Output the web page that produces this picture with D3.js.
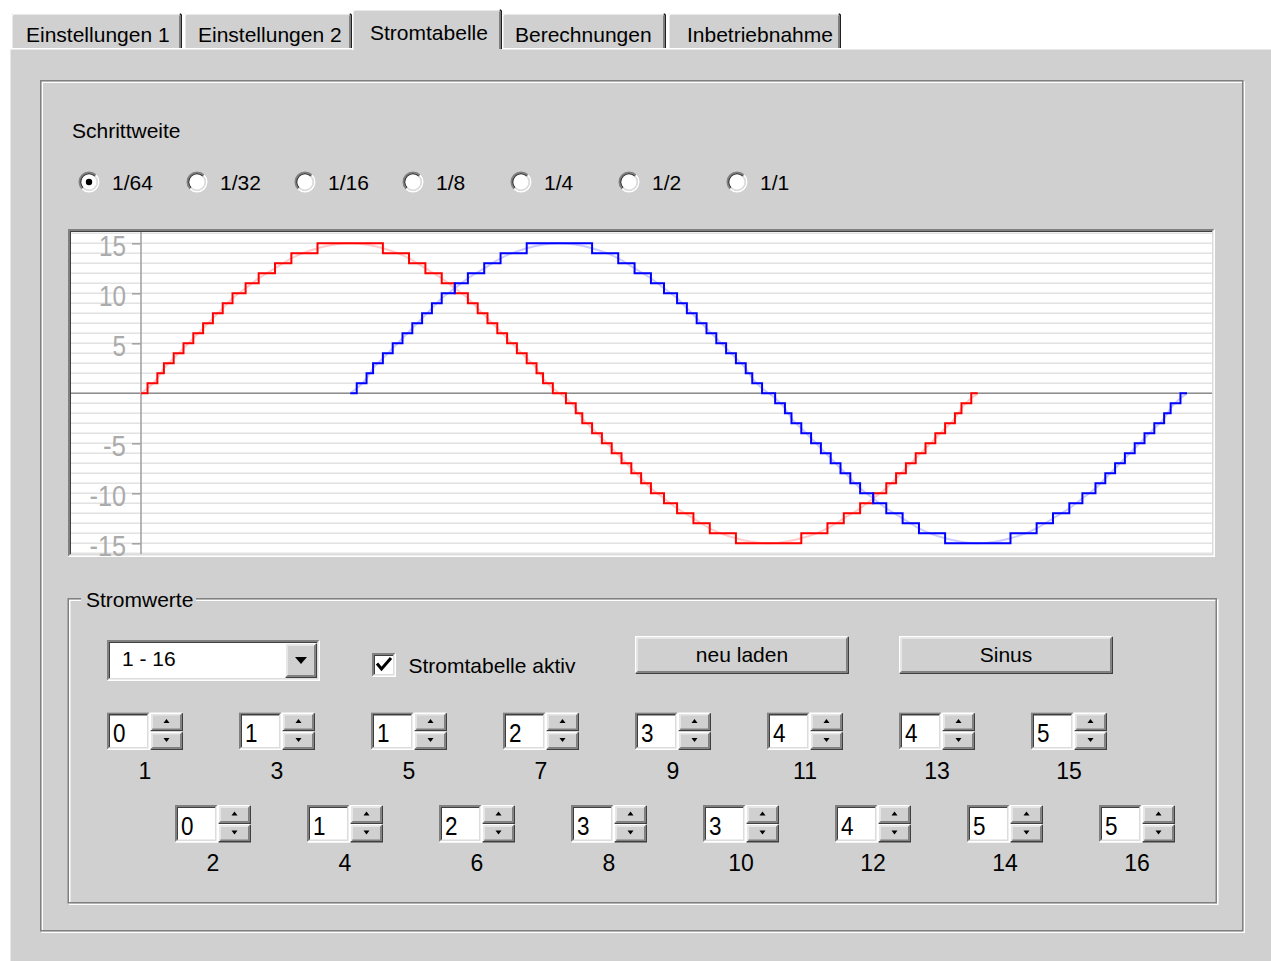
<!DOCTYPE html>
<meta charset="utf-8">
<script src="https://d3js.org/d3.v7.min.js"></script>
<style>
  body { margin: 0; background: #ffffff; }
  text { font-family: "Liberation Sans", Arial, sans-serif; font-size: 21px; fill: #000; }
</style>
<body>
<div id="dialog"></div>
<script>
  var tabNames = ["Einstellungen 1", "Einstellungen 2", "Stromtabelle", "Berechnungen", "Inbetriebnahme"];
  var activeTab = 2;

  var stepSizes = ["1/64", "1/32", "1/16", "1/8", "1/4", "1/2", "1/1"];
  var activeStep = 0;

  var yTicks = [15, 10, 5, -5, -10, -15];

  // coil current per microstep, one electrical period (4 x 64 microsteps)
  var phaseA = [
    0, 0, 1, 1, 1, 2, 2, 3, 3, 3, 4, 4, 4, 5, 5, 5,
    6, 6, 6, 7, 7, 7, 8, 8, 8, 9, 9, 9, 10, 10, 10, 10,
    11, 11, 11, 11, 12, 12, 12, 12, 12, 13, 13, 13, 13, 13, 14, 14,
    14, 14, 14, 14, 14, 14, 15, 15, 15, 15, 15, 15, 15, 15, 15, 15,
    15, 15, 15, 15, 15, 15, 15, 15, 15, 15, 14, 14, 14, 14, 14, 14,
    14, 14, 13, 13, 13, 13, 13, 12, 12, 12, 12, 12, 11, 11, 11, 11,
    10, 10, 10, 10, 9, 9, 9, 8, 8, 8, 7, 7, 7, 6, 6, 6,
    5, 5, 5, 4, 4, 4, 3, 3, 3, 2, 2, 1, 1, 1, 0, 0,
    0, 0, -1, -1, -1, -2, -2, -3, -3, -3, -4, -4, -4, -5, -5, -5,
    -6, -6, -6, -7, -7, -7, -8, -8, -8, -9, -9, -9, -10, -10, -10, -10,
    -11, -11, -11, -11, -12, -12, -12, -12, -12, -13, -13, -13, -13, -13, -14, -14,
    -14, -14, -14, -14, -14, -14, -15, -15, -15, -15, -15, -15, -15, -15, -15, -15,
    -15, -15, -15, -15, -15, -15, -15, -15, -15, -15, -14, -14, -14, -14, -14, -14,
    -14, -14, -13, -13, -13, -13, -13, -12, -12, -12, -12, -12, -11, -11, -11, -11,
    -10, -10, -10, -10, -9, -9, -9, -8, -8, -8, -7, -7, -7, -6, -6, -6,
    -5, -5, -5, -4, -4, -4, -3, -3, -3, -2, -2, -1, -1, -1, 0, 0
  ];
  var phaseBOffset = 64; // second coil starts a quarter period later

  var rangeLabel = "1 - 16";
  var tableValues = [0, 0, 1, 1, 1, 2, 2, 3, 3, 3, 4, 4, 4, 5, 5, 5];

  // ---- layout ----
  var W = 1271, H = 961;
  var GRAY = "#d0d0d0";
  var tabs = [
    { x0: 11, x1: 182, tx: 26 },
    { x0: 184, x1: 352, tx: 198 },
    { x0: 352, x1: 502, tx: 370 },
    { x0: 502, x1: 666, tx: 515 },
    { x0: 668, x1: 841, tx: 687 }
  ];

  var RAISED = [["#ffffff", "#404040"], ["#e6e6e6", "#808080"]];
  var SUNKEN = [["#808080", "#ffffff"], ["#404040", "#dcdcdc"]];

  var svg = d3.select("#dialog")
    .append("svg")
    .attr("width", W)
    .attr("height", H);

  // two rings of 1.5px lines, like a win32 3d edge
  function edge(g, x, y, w, h, cols) {
    var lw = 1.5;
    cols.forEach(function (c, k) {
      var o = k * lw + lw / 2;
      var x0 = x + o, y0 = y + o, x1 = x + w - o, y1 = y + h - o;
      g.append("path").attr("d", "M" + x0 + "," + y1 + "V" + y0 + "H" + x1)
        .attr("fill", "none").attr("stroke", c[0]).attr("stroke-width", lw);
      g.append("path").attr("d", "M" + x0 + "," + y1 + "H" + x1 + "V" + y0)
        .attr("fill", "none").attr("stroke", c[1]).attr("stroke-width", lw);
    });
  }

  function box(g, x, y, w, h, fill, cols) {
    g.append("rect").attr("x", x).attr("y", y).attr("width", w).attr("height", h).attr("fill", fill);
    edge(g, x, y, w, h, cols);
  }

  function etched(g, x, y, w, h) {
    g.append("rect").attr("x", x + 2.25).attr("y", y + 2.25).attr("width", w - 3).attr("height", h - 3)
      .attr("fill", "none").attr("stroke", "#ffffff").attr("stroke-width", 1.5);
    g.append("rect").attr("x", x + 0.75).attr("y", y + 0.75).attr("width", w - 3).attr("height", h - 3)
      .attr("fill", "none").attr("stroke", "#808080").attr("stroke-width", 1.5);
  }

  function triangle(g, cx, cy, hw, hh, up) {
    var d = up
      ? "M" + (cx - hw) + "," + (cy + hh) + "L" + (cx + hw) + "," + (cy + hh) + "L" + cx + "," + (cy - hh) + "Z"
      : "M" + (cx - hw) + "," + (cy - hh) + "L" + (cx + hw) + "," + (cy - hh) + "L" + cx + "," + (cy + hh) + "Z";
    g.append("path").attr("d", d).attr("fill", "#000");
  }

  // ---- tab control ----
  svg.append("rect").attr("x", 9).attr("y", 48).attr("width", W - 9).attr("height", H - 48).attr("fill", GRAY);
  svg.append("path").attr("d", "M9.75," + H + "V48.75H" + W)
    .attr("fill", "none").attr("stroke", "#ffffff").attr("stroke-width", 1.5);

  function drawTab(t, i) {
    var sel = i === activeTab;
    var top = sel ? 9 : 13, bot = sel ? 50 : 48;
    var g = svg.append("g");
    g.append("path")
      .attr("d", "M" + t.x0 + "," + bot + "V" + (top + 2) + "L" + (t.x0 + 2) + "," + top +
        "H" + (t.x1 - 2) + "L" + t.x1 + "," + (top + 2) + "V" + bot + "Z")
      .attr("fill", GRAY);
    g.append("path")
      .attr("d", "M" + (t.x0 + 0.75) + "," + bot + "V" + (top + 2.5) + "L" + (t.x0 + 2.5) + "," + (top + 0.75) +
        "H" + (t.x1 - 2.5))
      .attr("fill", "none").attr("stroke", "#ffffff").attr("stroke-width", 1.5);
    g.append("path")
      .attr("d", "M" + (t.x1 - 2) + "," + (top + 0.75) + "L" + (t.x1 - 0.75) + "," + (top + 2) + "V" + (sel ? bot - 1 : bot))
      .attr("fill", "none").attr("stroke", "#202020").attr("stroke-width", 1.5);
    g.append("path")
      .attr("d", "M" + (t.x1 - 2.25) + "," + (top + 2.5) + "V" + (sel ? bot - 1 : bot))
      .attr("fill", "none").attr("stroke", "#808080").attr("stroke-width", 1.5);
    g.append("text")
      .attr("x", t.tx)
      .attr("y", sel ? 39.5 : 42)
      .text(tabNames[i]);
  }
  tabs.forEach(function (t, i) { if (i !== activeTab) drawTab(t, i); });
  drawTab(tabs[activeTab], activeTab);

  // ---- page frame ----
  etched(svg, 40, 80, 1205, 853);

  svg.append("text").attr("x", 72).attr("y", 138).text("Schrittweite");

  // radio buttons
  var radioArc = d3.arc();
  stepSizes.forEach(function (s, i) {
    var cx = 89 + i * 108, cy = 182;
    var g = svg.append("g").attr("transform", "translate(" + cx + "," + cy + ")");
    var rings = [[10.5, 9, "#808080", "#ffffff"], [9, 7.5, "#404040", "#dcdcdc"]];
    rings.forEach(function (r) {
      g.append("path").attr("d", radioArc({ innerRadius: r[1], outerRadius: r[0], startAngle: -3 * Math.PI / 4, endAngle: Math.PI / 4 }))
        .attr("fill", r[2]);
      g.append("path").attr("d", radioArc({ innerRadius: r[1], outerRadius: r[0], startAngle: Math.PI / 4, endAngle: 5 * Math.PI / 4 }))
        .attr("fill", r[3]);
    });
    g.append("circle").attr("r", 7.5).attr("fill", "#ffffff");
    if (i === activeStep) g.append("circle").attr("r", 3.2).attr("fill", "#000");
    svg.append("text").attr("x", 112 + i * 108).attr("y", 190).text(s);
  });

  // ---- current table chart ----
  var cx0 = 68, cy0 = 229, cw = 1147, ch = 328;
  var chart = svg.append("g");
  box(chart, cx0, cy0, cw, ch, "#ffffff", SUNKEN);

  chart.append("clipPath").attr("id", "plotClip")
    .append("rect").attr("x", cx0 + 3).attr("y", cy0 + 3).attr("width", cw - 6).attr("height", ch - 6);

  var x = d3.scaleLinear().domain([0, 320]).range([141, 1187]);
  var y = d3.scaleLinear().domain([-16, 16]).range([553.3, 233.3]);

  var plot = chart.append("g").attr("clip-path", "url(#plotClip)");

  plot.selectAll("line.grid")
    .data(y.ticks(32))
    .enter()
    .append("line")
    .attr("class", "grid")
    .attr("x1", cx0 + 3).attr("x2", cx0 + cw - 3)
    .attr("y1", function (d) { return y(d); })
    .attr("y2", function (d) { return y(d); })
    .style("stroke", "#e2e2e2")
    .style("stroke-width", 1.6);

  plot.append("line")
    .attr("x1", cx0 + 3).attr("x2", cx0 + cw - 3)
    .attr("y1", y(0)).attr("y2", y(0))
    .style("stroke", "#8e8e8e").style("stroke-width", 1.6);

  plot.append("line")
    .attr("x1", x(0)).attr("x2", x(0))
    .attr("y1", cy0 + 3).attr("y2", cy0 + ch - 3)
    .style("stroke", "#a4a4a4").style("stroke-width", 1.6);

  var yAxis = d3.axisLeft(y)
    .tickValues(yTicks)
    .tickSize(9)
    .tickSizeOuter(0)
    .tickPadding(6)
    .tickFormat(function (d) { return String(d); });

  var axisG = chart.append("g")
    .attr("transform", "translate(" + x(0) + ",0)")
    .call(yAxis);
  axisG.select(".domain").remove();
  axisG.selectAll(".tick line").attr("stroke", "#a4a4a4").attr("stroke-width", 1.6);
  // the dialog font has narrow, tall digits
  axisG.selectAll(".tick text")
    .attr("dy", "0.42em")
    .attr("textLength", function (d) { return String(Math.abs(d)).length * 13.5 + (d < 0 ? 9.5 : 0); })
    .attr("lengthAdjust", "spacingAndGlyphs")
    .style("font-family", "'Liberation Sans', Arial, sans-serif")
    .style("font-size", "29px")
    .style("fill", "#ababab");

  function stepPoints(values, offset) {
    var pts = values.map(function (v, i) { return [i + offset, v]; });
    pts.push([values.length + offset, values[values.length - 1]]);
    return pts;
  }

  // smooth guide through the middle of each riser and the centre of the flat peaks
  function guidePoints(values, offset) {
    var peak = d3.max(values, function (v) { return Math.abs(v); });
    var pts = [[offset, values[0]]];
    var runStart = 0;
    for (var i = 1; i <= values.length; i++) {
      if (i === values.length || values[i] !== values[i - 1]) {
        if (Math.abs(values[i - 1]) === peak) pts.push([offset + (runStart + i) / 2, values[i - 1]]);
        if (i < values.length) pts.push([offset + i, (values[i] + values[i - 1]) / 2]);
        runStart = i;
      }
    }
    pts.push([offset + values.length, values[values.length - 1]]);
    return pts;
  }

  var stepLine = d3.line()
    .x(function (d) { return x(d[0]); })
    .y(function (d) { return y(d[1]); })
    .curve(d3.curveStepAfter);

  var guideLine = d3.line()
    .x(function (d) { return x(d[0]); })
    .y(function (d) { return y(d[1]); })
    .curve(d3.curveMonotoneX);

  var series = [
    { offset: 0, color: "#ff0000", faint: "#ffcaca" },
    { offset: phaseBOffset, color: "#0000ff", faint: "#cacaff" }
  ];

  series.forEach(function (s) {
    plot.append("path")
      .datum(guidePoints(phaseA, s.offset))
      .attr("d", guideLine)
      .style("fill", "none")
      .style("stroke", s.faint)
      .style("stroke-width", 2);
  });
  series.forEach(function (s) {
    plot.append("path")
      .datum(stepPoints(phaseA, s.offset))
      .attr("d", stepLine)
      .style("fill", "none")
      .style("stroke", s.color)
      .style("stroke-width", 2);
  });

  // ---- group box "Stromwerte" ----
  etched(svg, 67.5, 598, 1151, 307);
  svg.append("rect").attr("x", 81).attr("y", 592).attr("width", 115).attr("height", 12).attr("fill", GRAY);
  svg.append("text").attr("x", 86).attr("y", 607).text("Stromwerte");

  // combo box
  box(svg, 107, 640, 213, 41, "#ffffff", SUNKEN);
  box(svg, 285, 643, 32, 35, GRAY, RAISED);
  triangle(svg, 301, 660.5, 6, 3.5, false);
  svg.append("text").attr("x", 122).attr("y", 666).text(rangeLabel);

  // checkbox
  box(svg, 372, 653, 24, 24, "#ffffff", SUNKEN);
  svg.append("path").attr("d", "M377,663.5L381.5,669L391,658")
    .attr("fill", "none").attr("stroke", "#000").attr("stroke-width", 3);
  svg.append("text").attr("x", 408.5).attr("y", 673).text("Stromtabelle aktiv");

  // buttons
  [["neu laden", 635], ["Sinus", 899]].forEach(function (b) {
    box(svg, b[1], 636, 214, 38, GRAY, RAISED);
    svg.append("text").attr("x", b[1] + 107).attr("y", 662).attr("text-anchor", "middle").text(b[0]);
  });

  // spin edits, odd entries on the upper row, even entries below
  tableValues.forEach(function (v, k) {
    var row = k % 2, col = Math.floor(k / 2);
    var bx = (row ? 175 : 107) + col * 132;
    var by = row ? 805 : 712.5;
    var g = svg.append("g");
    box(g, bx, by, 43, 37.5, "#ffffff", SUNKEN);
    g.append("text").attr("x", bx + 6).attr("y", by + 29.5)
      .style("font-size", "25px")
      .attr("textLength", 12.5).attr("lengthAdjust", "spacingAndGlyphs")
      .text(v);
    box(g, bx + 43, by, 33, 19, GRAY, RAISED);
    box(g, bx + 43, by + 19, 33, 18.5, GRAY, RAISED);
    triangle(g, bx + 59.5, by + 8.5, 3, 2, true);
    triangle(g, bx + 59.5, by + 27.5, 3, 2, false);
    g.append("text").attr("x", bx + 38).attr("y", by + 66)
      .attr("text-anchor", "middle")
      .style("font-size", "23px")
      .text(k + 1);
  });
</script>
